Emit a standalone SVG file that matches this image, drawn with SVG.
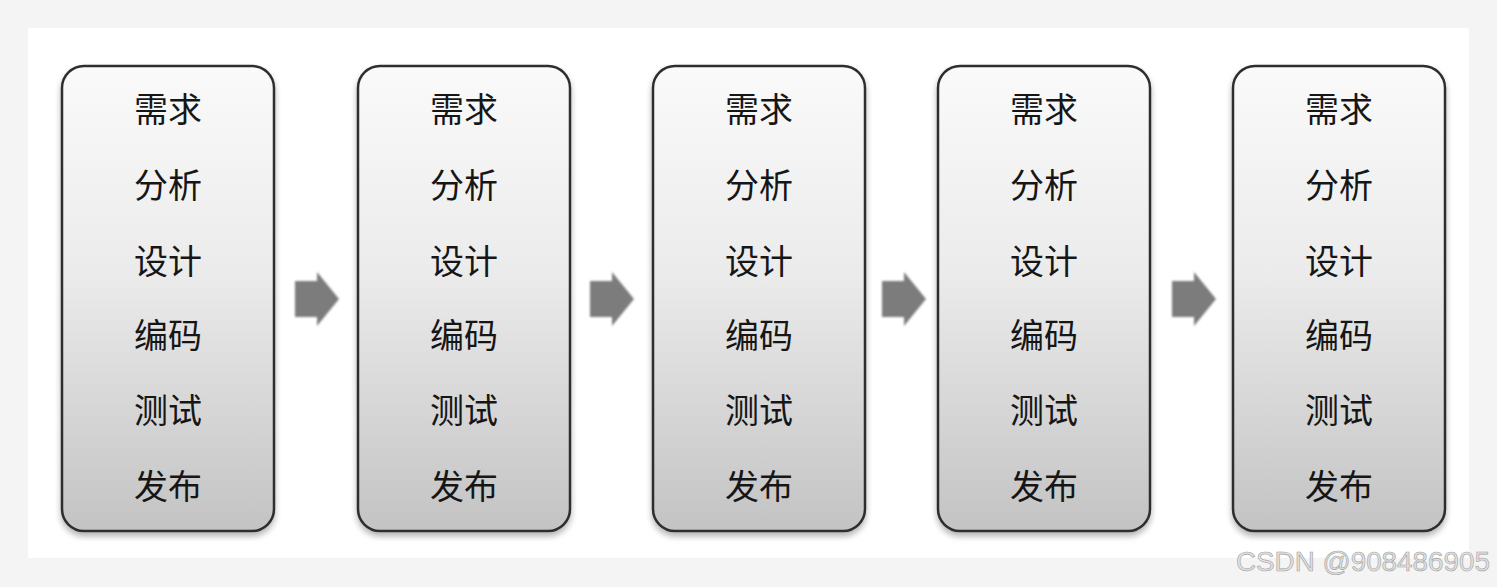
<svg xmlns="http://www.w3.org/2000/svg" width="1497" height="587" viewBox="0 0 1497 587">
<defs>
<linearGradient id="boxGrad" x1="0" y1="0" x2="0" y2="1">
<stop offset="0" stop-color="#fafafa"/>
<stop offset="0.45" stop-color="#ebebeb"/>
<stop offset="1" stop-color="#c3c3c3"/>
</linearGradient>
<filter id="shadow" x="-10%" y="-5%" width="120%" height="115%">
<feGaussianBlur in="SourceAlpha" stdDeviation="3"/>
<feOffset dx="0" dy="4" result="b"/>
<feComponentTransfer><feFuncA type="linear" slope="0.3"/></feComponentTransfer>
<feMerge><feMergeNode/><feMergeNode in="SourceGraphic"/></feMerge>
</filter>
<filter id="soft"><feGaussianBlur stdDeviation="0.8"/></filter>
<path id="arrowShape" d="M0,-18 L22,-18 L22,-27 L44,0 L22,27 L22,18 L0,18 Z"/>
</defs>
<style>
.box{fill:url(#boxGrad);stroke:#2e2e2e;stroke-width:2.5;filter:url(#shadow)}
.lbl{font-family:"Noto Sans CJK SC","Noto Sans CJK JP",sans-serif;font-size:34px;fill:#161616;text-anchor:middle}
.arrow{fill:#7c7c7c;filter:url(#soft)}
.wm{font-family:"Liberation Sans",Arial,sans-serif;font-size:27.8px;fill:#e2e2e2;stroke:#a0a0a0;stroke-width:0.6}
</style>
<rect x="0" y="0" width="1497" height="587" fill="#f4f4f4"/>
<rect x="28" y="28" width="1441" height="530" fill="#ffffff"/>
<g id="connectors">
<use href="#arrowShape" class="arrow" x="295" y="299"/>
<use href="#arrowShape" class="arrow" x="590" y="299"/>
<use href="#arrowShape" class="arrow" x="882" y="299"/>
<use href="#arrowShape" class="arrow" x="1172" y="299"/>
</g>
<g id="node1">
<rect class="box" x="62" y="66" width="212" height="465" rx="22"/>
<text class="lbl" x="168" y="122">需求</text>
<text class="lbl" x="168" y="198">分析</text>
<text class="lbl" x="168" y="274">设计</text>
<text class="lbl" x="168" y="348">编码</text>
<text class="lbl" x="168" y="423">测试</text>
<text class="lbl" x="168" y="499">发布</text>
</g>
<g id="node2">
<rect class="box" x="358" y="66" width="212" height="465" rx="22"/>
<text class="lbl" x="464" y="122">需求</text>
<text class="lbl" x="464" y="198">分析</text>
<text class="lbl" x="464" y="274">设计</text>
<text class="lbl" x="464" y="348">编码</text>
<text class="lbl" x="464" y="423">测试</text>
<text class="lbl" x="464" y="499">发布</text>
</g>
<g id="node3">
<rect class="box" x="653" y="66" width="212" height="465" rx="22"/>
<text class="lbl" x="759" y="122">需求</text>
<text class="lbl" x="759" y="198">分析</text>
<text class="lbl" x="759" y="274">设计</text>
<text class="lbl" x="759" y="348">编码</text>
<text class="lbl" x="759" y="423">测试</text>
<text class="lbl" x="759" y="499">发布</text>
</g>
<g id="node4">
<rect class="box" x="938" y="66" width="212" height="465" rx="22"/>
<text class="lbl" x="1044" y="122">需求</text>
<text class="lbl" x="1044" y="198">分析</text>
<text class="lbl" x="1044" y="274">设计</text>
<text class="lbl" x="1044" y="348">编码</text>
<text class="lbl" x="1044" y="423">测试</text>
<text class="lbl" x="1044" y="499">发布</text>
</g>
<g id="node5">
<rect class="box" x="1233" y="66" width="212" height="465" rx="22"/>
<text class="lbl" x="1339" y="122">需求</text>
<text class="lbl" x="1339" y="198">分析</text>
<text class="lbl" x="1339" y="274">设计</text>
<text class="lbl" x="1339" y="348">编码</text>
<text class="lbl" x="1339" y="423">测试</text>
<text class="lbl" x="1339" y="499">发布</text>
</g>
<text class="wm" x="1236" y="571">CSDN @908486905</text>
</svg>
